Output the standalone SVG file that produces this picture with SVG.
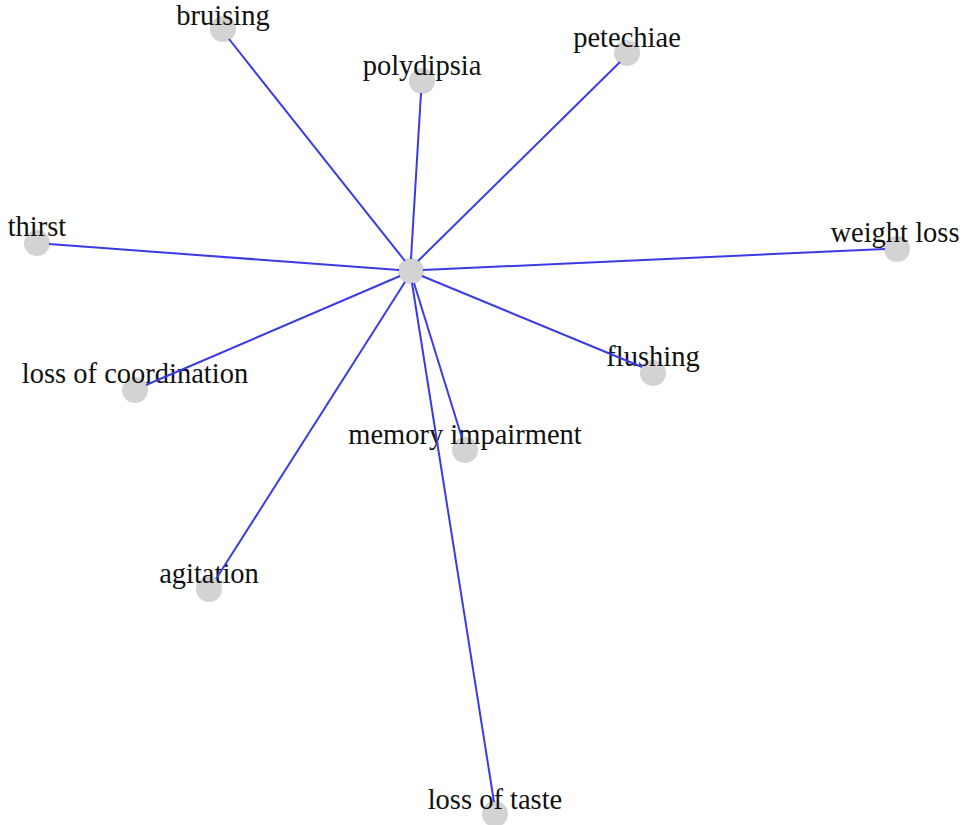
<svg xmlns="http://www.w3.org/2000/svg" width="966" height="825" viewBox="0 0 966 825">
<style>
.n{fill:#d3d3d3}
.t{font-family:"Liberation Serif","Times New Roman",serif;font-size:28.5px;fill:#111;text-anchor:middle}
.e{stroke:#3b3be6;stroke-width:2;fill:none}
</style>
<rect width="966" height="825" fill="#fff"/>
<g id="center"><circle class="n" cx="411" cy="271" r="13"/></g>
<g id="n-bruising"><circle class="n" cx="223" cy="29" r="13"/><text class="t" x="223" y="25">bruising</text></g>
<g id="n-polydipsia"><circle class="n" cx="422" cy="81" r="13"/><text class="t" x="422" y="75">polydipsia</text></g>
<g id="n-petechiae"><circle class="n" cx="627" cy="53" r="13"/><text class="t" x="627" y="47">petechiae</text></g>
<g id="n-thirst"><circle class="n" cx="37" cy="243" r="13"/><text class="t" x="37" y="236">thirst</text></g>
<g id="n-weightloss"><circle class="n" cx="897" cy="249" r="13"/><text class="t" x="895" y="242">weight loss</text></g>
<g id="n-flushing"><circle class="n" cx="653" cy="373" r="13"/><text class="t" x="653" y="366">flushing</text></g>
<g id="n-coordination"><circle class="n" cx="135" cy="390" r="13"/><text class="t" x="135" y="383">loss of coordination</text></g>
<g id="n-memory"><circle class="n" cx="465" cy="450" r="13"/><text class="t" x="465" y="444">memory impairment</text></g>
<g id="n-agitation"><circle class="n" cx="209" cy="589" r="13"/><text class="t" x="209" y="583">agitation</text></g>
<g id="n-taste"><circle class="n" cx="495" cy="814" r="13"/><text class="t" x="495" y="809">loss of taste</text></g>
<g id="edges">
<line class="e" x1="405" y1="261" x2="229" y2="39"/>
<line class="e" x1="411" y1="259" x2="421" y2="93"/>
<line class="e" x1="418" y1="261" x2="620" y2="62"/>
<line class="e" x1="399" y1="270" x2="49" y2="244"/>
<line class="e" x1="423" y1="270" x2="885" y2="249"/>
<line class="e" x1="422" y1="276" x2="642" y2="367"/>
<line class="e" x1="400" y1="276" x2="146" y2="385"/>
<line class="e" x1="414" y1="283" x2="462" y2="438"/>
<line class="e" x1="405" y1="282" x2="216" y2="579"/>
<line class="e" x1="412" y1="283" x2="494" y2="802"/>
</g>
</svg>
